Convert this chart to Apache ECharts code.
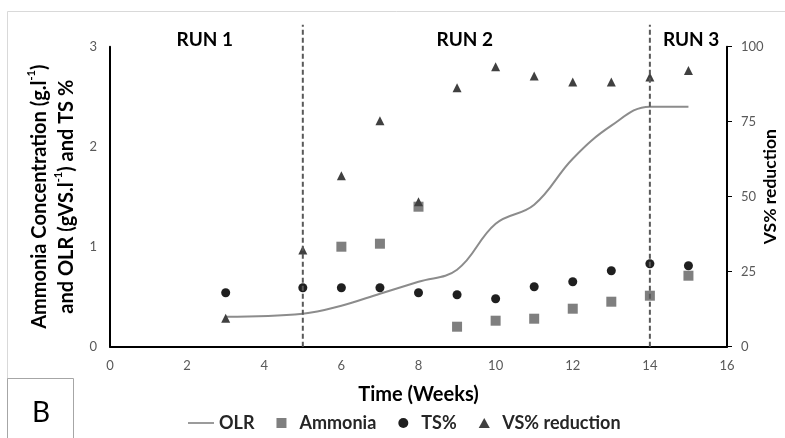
<!DOCTYPE html>
<html>
<head>
<meta charset="utf-8">
<script src="https://cdn.jsdelivr.net/npm/echarts@6/dist/echarts.min.js"></script>
<style>
html,body{margin:0;padding:0;background:#fff;overflow:hidden;}
#chart{width:785px;height:438px;}
</style>
</head>
<body>
<div id="chart"></div>
<script>
// ---- data ----
const olrWeeks = [3, 5, 6, 7, 8, 9, 10, 11, 12, 13, 14, 15];
const olr = [0.30, 0.33, 0.41, 0.53, 0.65, 0.77, 1.23, 1.42, 1.88, 2.21, 2.40, 2.40];
const ammoniaWeeks = [6, 7, 8, 9, 10, 11, 12, 13, 14, 15];
const ammonia = [1.00, 1.03, 1.40, 0.20, 0.26, 0.28, 0.38, 0.45, 0.51, 0.71];
const tsWeeks = [3, 5, 6, 7, 8, 9, 10, 11, 12, 13, 14, 15];
const ts = [0.54, 0.59, 0.59, 0.59, 0.54, 0.52, 0.48, 0.60, 0.65, 0.76, 0.83, 0.81];
const vsWeeks = [3, 5, 6, 7, 8, 9, 10, 11, 12, 13, 14, 15];
const vsReduction = [9.5, 32.2, 57, 75.3, 48.3, 86.3, 93.3, 90.2, 88.2, 88.2, 89.9, 92.1];
const runBoundaries = [5, 14];
const runLabels = ['RUN 1', 'RUN 2', 'RUN 3'];
const runLabelWeeks = [2.46, 9.2, 15.07];
const xTicks = {min: 0, max: 16, interval: 2};
const yLeftTicks = {min: 0, max: 3, interval: 1};
const yRightTicks = {min: 0, max: 100, interval: 25};

const pair = (xs, ys) => xs.map((x, i) => [x, ys[i]]);
const FONT = 'Lato';

const chart = echarts.init(document.getElementById('chart'), null, {renderer: 'canvas'});

const option = {
  backgroundColor: '#fff',
  animation: false,
  textStyle: {fontFamily: FONT},
  grid: {left: 110, right: 58, top: 46.7, bottom: 91.3, containLabel: false, outerBoundsMode: 'none'},
  graphic: [
    {type: 'rect', shape: {x: 7.5, y: 11.5, width: 900, height: 600}, style: {fill: 'none', stroke: '#d9d9d9', lineWidth: 1}, z: -1, silent: true},
    {type: 'rect', shape: {x: 7.5, y: 378.5, width: 66, height: 100}, style: {fill: '#fff', stroke: '#a6a6a6', lineWidth: 1}, z: 1, silent: true},
    {type: 'text', x: 41, y: 413, style: {text: 'B', fontSize: 28, fontFamily: FONT, fill: '#000', textAlign: 'center', textVerticalAlign: 'middle'}, z: 2, silent: true}
  ],
  legend: {
    top: 409, left: 183,
    itemWidth: 26, itemHeight: 10, itemGap: 22,
    symbolKeepAspect: true,
    textStyle: {fontFamily: FONT, fontWeight: 'bold', fontSize: 18, color: '#262626'},
    data: [
      {name: 'OLR', icon: 'path://M0,0 L30,0 L30,2 L0,2 Z'},
      {name: 'Ammonia', icon: 'path://M0,0 L10,0 L10,10 L0,10 Z'},
      {name: 'TS%', icon: 'path://M5,0 A5,5,0,1,1,5,10 A5,5,0,1,1,5,0 Z'},
      {name: 'VS% reduction', icon: 'path://M5,0 L10,9 L0,9 Z'}
    ]
  },
  xAxis: {
    type: 'value', min: xTicks.min, max: xTicks.max, interval: xTicks.interval,
    name: 'Time (Weeks)', nameLocation: 'middle', nameGap: 38, nameMoveOverlap: false,
    nameTextStyle: {fontFamily: FONT, fontWeight: 'bold', fontSize: 20, color: '#000'},
    axisLine: {show: true, lineStyle: {color: '#000', width: 2}},
    axisTick: {show: false},
    splitLine: {show: false},
    axisLabel: {fontFamily: FONT, fontSize: 13, color: '#595959', margin: 13}
  },
  yAxis: [
    {
      type: 'value', min: yLeftTicks.min, max: yLeftTicks.max, interval: yLeftTicks.interval,
      position: 'left',
      name: '{b|Ammonia Concentration (g.l}{s|-1}{b|)}\n{b|and OLR (gVS.l}{s|-1}{b|) and TS %}',
      nameLocation: 'middle', nameRotate: 90, nameGap: 30, nameMoveOverlap: false,
      nameTextStyle: {
        rich: {
          b: {fontFamily: FONT, fontWeight: 'bold', fontSize: 20, color: '#000', lineHeight: 27},
          s: {fontFamily: FONT, fontWeight: 'bold', fontSize: 11, color: '#000', lineHeight: 27, verticalAlign: 'top'}
        }
      },
      axisLine: {show: true, lineStyle: {color: '#000', width: 2}},
      axisTick: {show: false},
      splitLine: {show: false},
      axisLabel: {fontFamily: FONT, fontSize: 13, color: '#595959', margin: 13}
    },
    {
      type: 'value', min: yRightTicks.min, max: yRightTicks.max, interval: yRightTicks.interval,
      position: 'right',
      name: '{g| }{t|VS% reduction}', nameLocation: 'middle', nameRotate: 90, nameGap: 34, nameMoveOverlap: false,
      nameTextStyle: {
        rich: {
          g: {width: 20, fontSize: 17},
          t: {fontFamily: FONT, fontWeight: 'bold', fontSize: 17.5, color: '#000'}
        }
      },
      axisLine: {show: true, lineStyle: {color: '#000', width: 2}},
      axisTick: {show: true, length: 5, lineStyle: {color: '#000', width: 1}},
      splitLine: {show: false},
      axisLabel: {fontFamily: FONT, fontSize: 13, color: '#595959', margin: 14}
    }
  ],
  series: [
    {
      name: 'OLR', type: 'line', yAxisIndex: 0, data: pair(olrWeeks, olr),
      smooth: 0.4, symbol: 'none', showSymbol: false,
      lineStyle: {color: '#8c8c8c', width: 2}, itemStyle: {color: '#8c8c8c'}, z: 2
    },
    {
      name: 'Ammonia', type: 'scatter', yAxisIndex: 0, data: pair(ammoniaWeeks, ammonia),
      symbol: 'rect', symbolSize: 10, itemStyle: {color: '#7f7f7f', opacity: 1}, z: 3
    },
    {
      name: 'TS%', type: 'scatter', yAxisIndex: 0, data: pair(tsWeeks, ts),
      symbol: 'circle', symbolSize: 9, itemStyle: {color: '#1f1f1f', opacity: 1}, z: 3
    },
    {
      name: 'VS% reduction', type: 'scatter', yAxisIndex: 1, data: pair(vsWeeks, vsReduction),
      symbol: 'triangle', symbolSize: 9, itemStyle: {color: '#404040', opacity: 1}, z: 4
    },
    {
      name: 'boundaries', type: 'custom', yAxisIndex: 0, silent: true, z: 5,
      data: runBoundaries.map(w => [w, 0]),
      encode: {x: 0, y: 1},
      renderItem: function (params, api) {
        const x = api.value(0);
        const b = api.coord([x, yLeftTicks.min]);
        const t = api.coord([x, yLeftTicks.max]);
        return {
          type: 'line',
          shape: {x1: b[0], y1: b[1], x2: t[0], y2: t[1] - 22},
          style: {stroke: '#595959', lineWidth: 2, lineDash: [5, 3]}
        };
      }
    },
    {
      name: 'runLabels', type: 'custom', yAxisIndex: 0, silent: true, z: 5,
      data: runLabelWeeks.map(w => [w, yLeftTicks.max]),
      encode: {x: 0, y: 1},
      renderItem: function (params, api) {
        const p = api.coord([api.value(0), api.value(1)]);
        return {
          type: 'text', x: p[0], y: p[1] - 7,
          style: {text: runLabels[params.dataIndex], fontFamily: FONT, fontWeight: 'bold', fontSize: 19, fill: '#000', textAlign: 'center', textVerticalAlign: 'middle'}
        };
      }
    }
  ]
};
chart.setOption(option);
</script>
</body>
</html>
